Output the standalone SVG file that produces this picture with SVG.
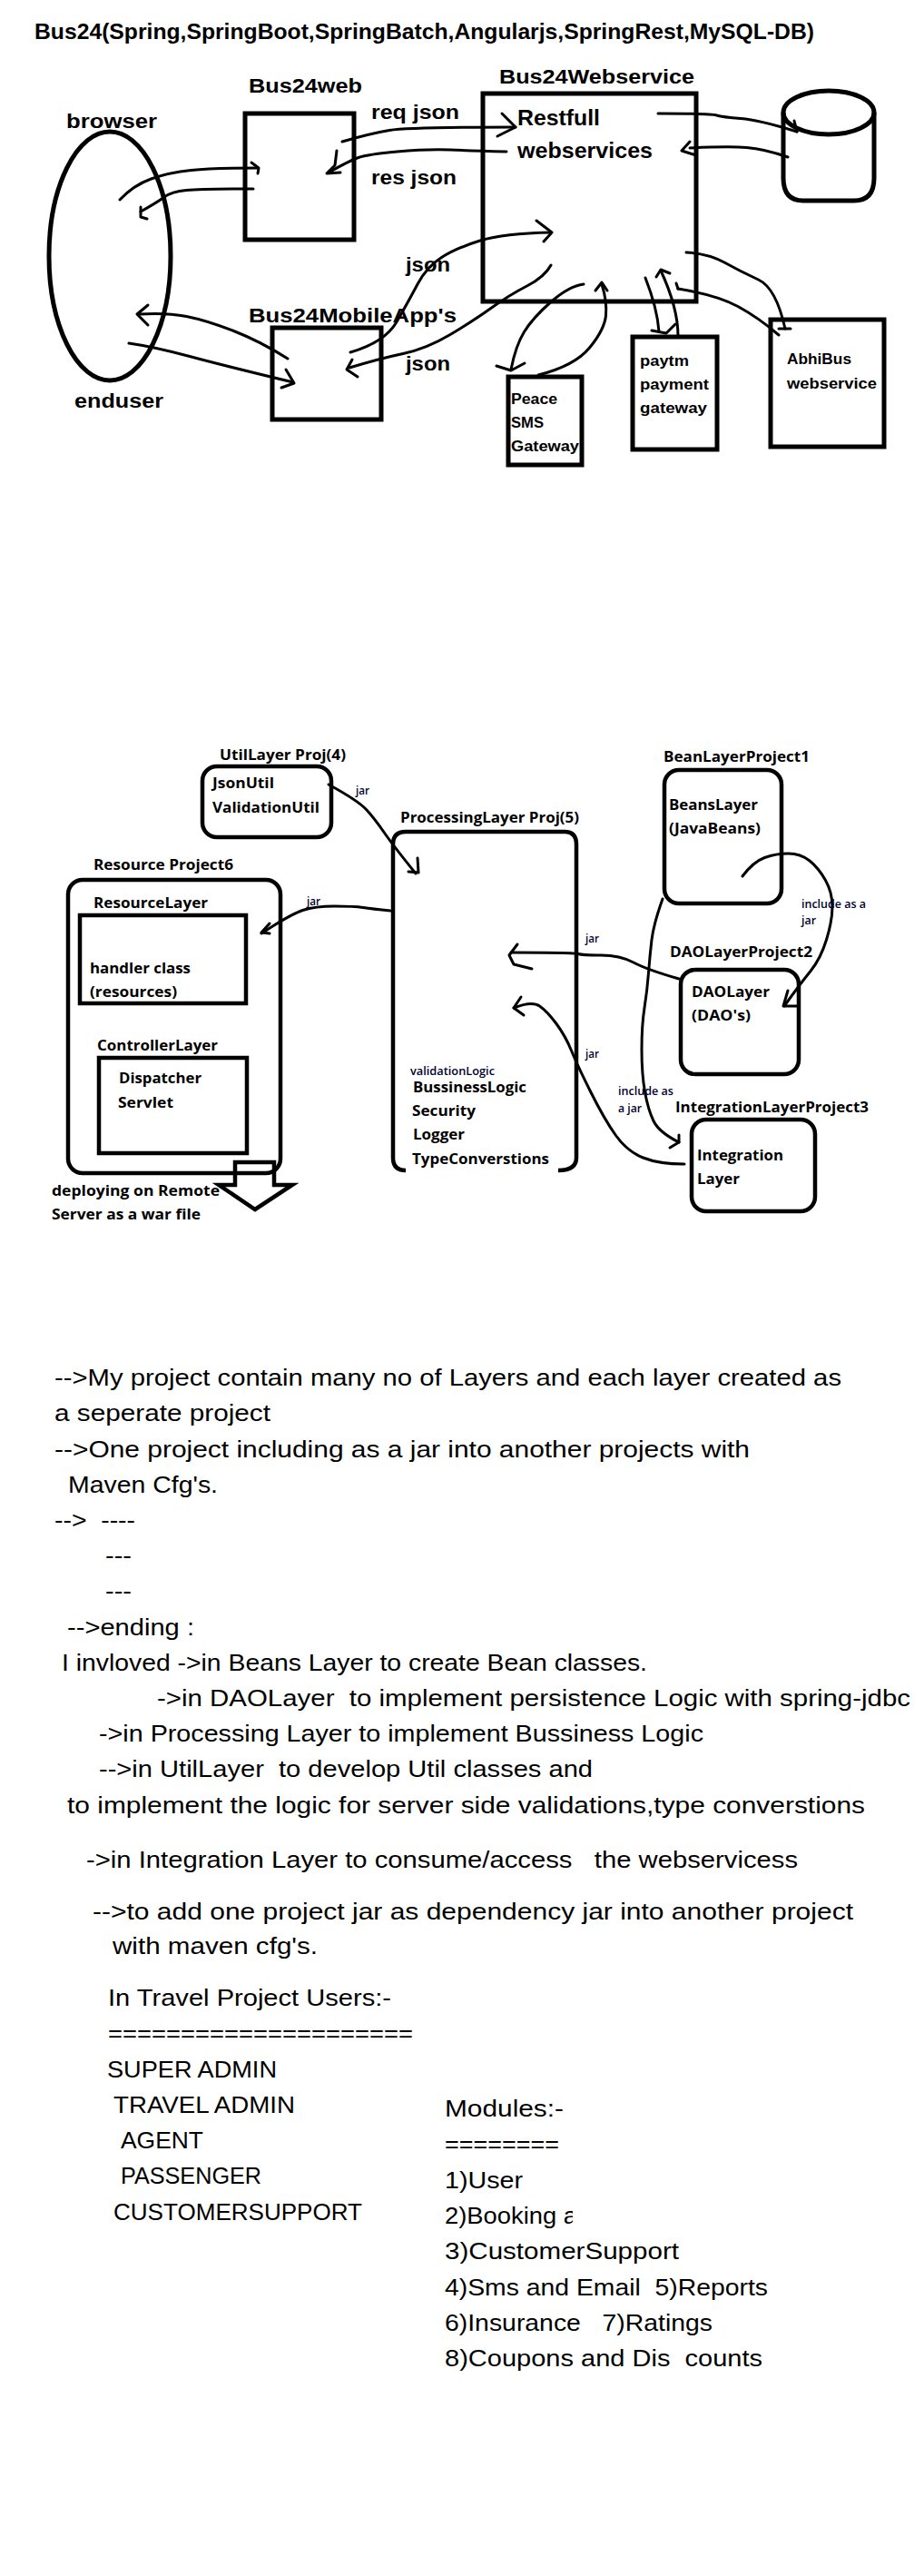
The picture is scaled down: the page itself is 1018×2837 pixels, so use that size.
<svg xmlns="http://www.w3.org/2000/svg" width="1018" height="2837" viewBox="0 0 1018 2837">
<style>
text{font-family:"Liberation Sans",Arial,sans-serif;fill:#000;white-space:pre}
.b{font-weight:bold}
.t24{font-size:24px}.t22{font-size:22px}.t16{font-size:16px}
.o{font-family:"Open Sans","DejaVu Sans",sans-serif;font-weight:700;font-size:16px}
.s{font-family:"Open Sans","DejaVu Sans",sans-serif;font-weight:600;font-size:12.5px;fill:#000030}
.p{font-size:26px}
.box{fill:none;stroke:#000;stroke-width:5}
.box2{fill:none;stroke:#000;stroke-width:4.5}
.c{fill:none;stroke:#000;stroke-width:3;stroke-linejoin:round;stroke-linecap:round}
</style>
<defs><clipPath id="clipBooking"><rect x="480" y="2420" width="151" height="40"/></clipPath></defs>
<rect width="1018" height="2837" fill="#fff"/>

<g id="title"><text class="b t24" x="38" y="43" textLength="859" lengthAdjust="spacingAndGlyphs">Bus24(Spring,SpringBoot,SpringBatch,Angularjs,SpringRest,MySQL-DB)</text></g>

<g id="browser-enduser"><ellipse class="box" cx="121" cy="282" rx="67" ry="137"/>
<text class="b t22" x="73" y="141" textLength="100" lengthAdjust="spacingAndGlyphs">browser</text>
<text class="b t22" x="82" y="449" textLength="98" lengthAdjust="spacingAndGlyphs">enduser</text></g>
<g id="bus24web"><rect class="box" x="270" y="125" width="120" height="139"/>
<text class="b t22" x="274" y="102" textLength="125" lengthAdjust="spacingAndGlyphs">Bus24web</text></g>
<g id="bus24webservice"><rect class="box" x="532" y="103" width="235" height="229"/>
<text class="b t22" x="550" y="92" textLength="215" lengthAdjust="spacingAndGlyphs">Bus24Webservice</text>
<text class="b t24" x="570" y="138" textLength="91" lengthAdjust="spacingAndGlyphs">Restfull</text>
<text class="b t24" x="570" y="174" textLength="149" lengthAdjust="spacingAndGlyphs">webservices</text></g>
<g id="database"><path class="box" d="M863,124V196Q863,221 885,221H941Q963,221 963,196V124"/><ellipse class="box" cx="913" cy="124" rx="50" ry="24"/></g>
<g id="bus24mobile"><rect class="box" x="300" y="361" width="120" height="101"/>
<text class="b t22" x="274" y="355" textLength="229" lengthAdjust="spacingAndGlyphs">Bus24MobileApp's</text></g>
<g id="peace"><rect class="box" x="560" y="415" width="81" height="97"/>
<text class="b t16" x="563" y="445" textLength="51" lengthAdjust="spacingAndGlyphs">Peace</text>
<text class="b t16" x="563" y="471" textLength="36" lengthAdjust="spacingAndGlyphs">SMS</text>
<text class="b t16" x="563" y="497" textLength="75" lengthAdjust="spacingAndGlyphs">Gateway</text></g>
<g id="paytm"><rect class="box" x="697" y="371" width="93" height="124"/>
<text class="b t16" x="705" y="403" textLength="54" lengthAdjust="spacingAndGlyphs">paytm</text>
<text class="b t16" x="705" y="429" textLength="76" lengthAdjust="spacingAndGlyphs">payment</text>
<text class="b t16" x="705" y="455" textLength="74" lengthAdjust="spacingAndGlyphs">gateway</text></g>
<g id="abhibus"><rect class="box" x="849" y="352" width="125" height="140"/>
<text class="b t16" x="867" y="401" textLength="71" lengthAdjust="spacingAndGlyphs">AbhiBus</text>
<text class="b t16" x="867" y="428" textLength="99" lengthAdjust="spacingAndGlyphs">webservice</text></g>

<g id="connectors-top">
<path class="c" d="M377,156Q408,147 429,143.5T568,140"/><polyline class="c" points="553,125 568,140 548,150"/>
<path class="c" d="M558,167Q522,166 496,165T437.5,167T395,173.5T362,190"/><polyline class="c" points="371,166 369,182 360,191 375,190"/>
<path class="c" d="M725,125Q783,125 789.5,127T816,130.5T878,145"/><polyline class="c" points="875,133 878,145"/>
<path class="c" d="M868,173Q842,164 822.5,162.5T760,163"/><polyline class="c" points="760,156 751,166 767,171"/>
<path class="c" d="M132,220Q147,204 166.5,197T210.5,187.5T284,185"/><polyline class="c" points="277,179 285,185 284,191"/>
<path class="c" d="M279,208Q222,208 205.5,209.5T181,217T155,233"/><polyline class="c" points="155,228 155,239 162,241"/>
<path class="c" d="M386,388Q424,377 437,354.5T460,313T486.5,283.5T529,265T607,256"/><polyline class="c" points="591,243 608,256 599,266"/>
<path class="c" d="M607,292Q600,305 580.5,315T541.5,339T496,368.5T444,389.5T385,405"/><polyline class="c" points="388,396 382,407 394,415"/>
<path class="c" d="M317,395Q287,376 257.5,364.5T205.5,348.5T153,346"/><polyline class="c" points="163,336 151,346 163,358"/>
<path class="c" d="M142,378Q170,382 209,392.5T323,421"/><polyline class="c" points="315,407 324,422 310,427"/>
<path class="c" d="M643,313Q627,315 607,332.5T577.5,365.5T563,407"/><polyline class="c" points="547,403 563,408 578,400"/>
<path class="c" d="M593,413Q633,403 649.5,383T667.5,347.5T663,313"/><polyline class="c" points="656,320 663,311 669,320"/>
<path class="c" d="M711,306Q724,339 726,365"/><polyline class="c" points="718,364 734,367 744,357"/>
<path class="c" d="M747,370Q747,339 728,298"/><polyline class="c" points="723,305 728,297 738,301"/>
<path class="c" d="M756,278Q780,279 798,289T835.5,308T865,362"/><polyline class="c" points="858,362 871,362"/>
<path class="c" d="M858,369Q836,350 813,337.5T747,318"/><polyline class="c" points="745,312 747,318"/>
</g>
<g id="labels-top">
<text class="b t22" x="409" y="131" textLength="97" lengthAdjust="spacingAndGlyphs">req json</text>
<text class="b t22" x="409" y="203" textLength="94" lengthAdjust="spacingAndGlyphs">res json</text>
<text class="b t22" x="447" y="299" textLength="49" lengthAdjust="spacingAndGlyphs">json</text>
<text class="b t22" x="447" y="408" textLength="49" lengthAdjust="spacingAndGlyphs">json</text>
</g>

<g id="utillayer"><rect class="box2" x="223" y="844" width="142" height="78" rx="16"/>
<text class="o" x="242" y="837" textLength="139" lengthAdjust="spacingAndGlyphs">UtilLayer Proj(4)</text>
<text class="o" x="234" y="868" textLength="68" lengthAdjust="spacingAndGlyphs">JsonUtil</text>
<text class="o" x="234" y="895" textLength="118" lengthAdjust="spacingAndGlyphs">ValidationUtil</text></g>
<g id="resource-project"><rect class="box2" x="75" y="969" width="234" height="323" rx="16"/>
<text class="o" x="103" y="958" textLength="154" lengthAdjust="spacingAndGlyphs">Resource Project6</text>
<rect class="box2" x="88" y="1008" width="183" height="97"/>
<text class="o" x="103" y="1000" textLength="126" lengthAdjust="spacingAndGlyphs">ResourceLayer</text>
<text class="o" x="99" y="1072" textLength="111" lengthAdjust="spacingAndGlyphs">handler class</text>
<text class="o" x="99" y="1098" textLength="96" lengthAdjust="spacingAndGlyphs">(resources)</text>
<rect class="box2" x="109" y="1165" width="163" height="105"/>
<text class="o" x="107" y="1157" textLength="133" lengthAdjust="spacingAndGlyphs">ControllerLayer</text>
<text class="o" x="131" y="1193" textLength="91" lengthAdjust="spacingAndGlyphs">Dispatcher</text>
<text class="o" x="130" y="1220" textLength="61" lengthAdjust="spacingAndGlyphs">Servlet</text>
<polygon class="box2" points="259,1280 302,1280 302,1305 322,1305 281,1332 241,1305 259,1305"/>
<text class="o" x="57" y="1317" textLength="185" lengthAdjust="spacingAndGlyphs">deploying on Remote</text>
<text class="o" x="57" y="1343" textLength="164" lengthAdjust="spacingAndGlyphs">Server as a war file</text></g>
<g id="processing"><path class="box2" d="M447,1289Q433,1289 433,1275V930Q433,916 447,916H622Q635,916 635,930V1275Q635,1289 615,1289"/>
<text class="o" x="441" y="906" textLength="197" lengthAdjust="spacingAndGlyphs">ProcessingLayer Proj(5)</text>
<text class="s" x="452" y="1184" textLength="93" lengthAdjust="spacingAndGlyphs">validationLogic</text>
<text class="o" x="455" y="1203" textLength="125" lengthAdjust="spacingAndGlyphs">BussinessLogic</text>
<text class="o" x="454" y="1229" textLength="70" lengthAdjust="spacingAndGlyphs">Security</text>
<text class="o" x="455" y="1255" textLength="57" lengthAdjust="spacingAndGlyphs">Logger</text>
<text class="o" x="454" y="1282" textLength="151" lengthAdjust="spacingAndGlyphs">TypeConverstions</text></g>
<g id="beanlayer"><rect class="box2" x="732" y="848" width="129" height="147" rx="16"/>
<text class="o" x="731" y="839" textLength="161" lengthAdjust="spacingAndGlyphs">BeanLayerProject1</text>
<text class="o" x="737" y="892" textLength="98" lengthAdjust="spacingAndGlyphs">BeansLayer</text>
<text class="o" x="737" y="918" textLength="101" lengthAdjust="spacingAndGlyphs">(JavaBeans)</text></g>
<g id="daolayer"><rect class="box2" x="750" y="1068" width="130" height="115" rx="16"/>
<text class="o" x="738" y="1054" textLength="157" lengthAdjust="spacingAndGlyphs">DAOLayerProject2</text>
<text class="o" x="762" y="1098" textLength="86" lengthAdjust="spacingAndGlyphs">DAOLayer</text>
<text class="o" x="762" y="1124" textLength="65" lengthAdjust="spacingAndGlyphs">(DAO's)</text></g>
<g id="integration"><rect class="box2" x="762" y="1233" width="136" height="101" rx="16"/>
<text class="o" x="744" y="1225" textLength="213" lengthAdjust="spacingAndGlyphs">IntegrationLayerProject3</text>
<text class="o" x="768" y="1278" textLength="95" lengthAdjust="spacingAndGlyphs">Integration</text>
<text class="o" x="768" y="1304" textLength="47" lengthAdjust="spacingAndGlyphs">Layer</text></g>

<g id="connectors-layers">
<path class="c" d="M362,864Q395,882 404,892T423,916.5T458,962"/><polyline class="c" points="460,945 461,961 450,960"/>
<path class="c" d="M430,1003Q410,1001 400,999.5T368.5,998T333.5,1002.5T288,1028"/><polyline class="c" points="297,1017 288,1027 297,1028"/>
<path class="c" d="M748,1078Q713,1068 698,1060T662,1052T637,1050.5T563,1049"/><polyline class="c" points="570,1040 561,1052 566,1062 586,1067"/>
<path class="c" d="M754,1282Q726,1282 708.5,1275T678.5,1250.5T651,1203T629.5,1157T613,1127.5T594.5,1108T566,1110"/><polyline class="c" points="574,1098 566,1110 577,1118"/>
<path class="c" d="M818,965Q830,949 842.5,944.5T868.5,940T892,948T909.5,969.5T917,998.5T910.5,1035T893,1069.5T864,1108"/><polyline class="c" points="868,1091 863,1108 879,1108"/>
<path class="c" d="M730,990Q720,1018 718,1035T714.5,1071.5T710,1110T707,1156T710.5,1202.5T720,1234.5T748,1258"/><polyline class="c" points="748,1250 748,1258 738,1264"/>
</g>
<g id="labels-layers">
<text class="s" x="392" y="875" textLength="15" lengthAdjust="spacingAndGlyphs">jar</text>
<text class="s" x="338" y="997" textLength="15" lengthAdjust="spacingAndGlyphs">jar</text>
<text class="s" x="645" y="1038" textLength="15" lengthAdjust="spacingAndGlyphs">jar</text>
<text class="s" x="645" y="1165" textLength="15" lengthAdjust="spacingAndGlyphs">jar</text>
<text class="s" x="883" y="1000" textLength="71" lengthAdjust="spacingAndGlyphs">include as a</text>
<text class="s" x="883" y="1018" textLength="16" lengthAdjust="spacingAndGlyphs">jar</text>
<text class="s" x="681" y="1206" textLength="61" lengthAdjust="spacingAndGlyphs">include as</text>
<text class="s" x="681" y="1225" textLength="26" lengthAdjust="spacingAndGlyphs">a jar</text>
</g>

<g id="notes">
<text class="p" x="60" y="1526" textLength="867" lengthAdjust="spacingAndGlyphs">--&gt;My project contain many no of Layers and each layer created as</text>
<text class="p" x="60" y="1565" textLength="238" lengthAdjust="spacingAndGlyphs">a seperate project</text>
<text class="p" x="60" y="1605" textLength="766" lengthAdjust="spacingAndGlyphs">--&gt;One project including as a jar into another projects with</text>
<text class="p" x="75" y="1644" textLength="165" lengthAdjust="spacingAndGlyphs">Maven Cfg's.</text>
<text class="p" x="60" y="1683" textLength="89" lengthAdjust="spacingAndGlyphs">--&gt;  ----</text>
<text class="p" x="116" y="1722" textLength="29" lengthAdjust="spacingAndGlyphs">---</text>
<text class="p" x="116" y="1761" textLength="29" lengthAdjust="spacingAndGlyphs">---</text>
<text class="p" x="74" y="1801" textLength="140" lengthAdjust="spacingAndGlyphs">--&gt;ending :</text>
<text class="p" x="68" y="1840" textLength="645" lengthAdjust="spacingAndGlyphs">I invloved -&gt;in Beans Layer to create Bean classes.</text>
<text class="p" x="173" y="1879" textLength="830" lengthAdjust="spacingAndGlyphs">-&gt;in DAOLayer  to implement persistence Logic with spring-jdbc</text>
<text class="p" x="109" y="1918" textLength="666" lengthAdjust="spacingAndGlyphs">-&gt;in Processing Layer to implement Bussiness Logic</text>
<text class="p" x="109" y="1957" textLength="544" lengthAdjust="spacingAndGlyphs">--&gt;in UtilLayer  to develop Util classes and</text>
<text class="p" x="74" y="1997" textLength="879" lengthAdjust="spacingAndGlyphs">to implement the logic for server side validations,type converstions</text>
<text class="p" x="95" y="2057" textLength="784" lengthAdjust="spacingAndGlyphs">-&gt;in Integration Layer to consume/access   the webservicess</text>
<text class="p" x="102" y="2114" textLength="838" lengthAdjust="spacingAndGlyphs">--&gt;to add one project jar as dependency jar into another project</text>
<text class="p" x="124" y="2152" textLength="226" lengthAdjust="spacingAndGlyphs">with maven cfg's.</text>
</g>
<g id="users">
<text class="p" x="119" y="2209" textLength="312" lengthAdjust="spacingAndGlyphs">In Travel Project Users:-</text>
<text class="p" x="119" y="2248" textLength="336" lengthAdjust="spacingAndGlyphs">=====================</text>
<text class="p" x="118" y="2288" textLength="187" lengthAdjust="spacingAndGlyphs">SUPER ADMIN</text>
<text class="p" x="125" y="2327" textLength="200" lengthAdjust="spacingAndGlyphs">TRAVEL ADMIN</text>
<text class="p" x="133" y="2366" textLength="91" lengthAdjust="spacingAndGlyphs">AGENT</text>
<text class="p" x="133" y="2405" textLength="155" lengthAdjust="spacingAndGlyphs">PASSENGER</text>
<text class="p" x="125" y="2445" textLength="274" lengthAdjust="spacingAndGlyphs">CUSTOMERSUPPORT</text>
</g>
<g id="modules">
<text class="p" x="490" y="2331" textLength="131" lengthAdjust="spacingAndGlyphs">Modules:-</text>
<text class="p" x="490" y="2370" textLength="126" lengthAdjust="spacingAndGlyphs">========</text>
<text class="p" x="490" y="2410" textLength="86" lengthAdjust="spacingAndGlyphs">1)User</text>
<text class="p" x="490" y="2449" textLength="146" lengthAdjust="spacingAndGlyphs" clip-path="url(#clipBooking)">2)Booking a</text>
<text class="p" x="490" y="2488" textLength="258" lengthAdjust="spacingAndGlyphs">3)CustomerSupport</text>
<text class="p" x="490" y="2528" textLength="356" lengthAdjust="spacingAndGlyphs">4)Sms and Email  5)Reports</text>
<text class="p" x="490" y="2567" textLength="295" lengthAdjust="spacingAndGlyphs">6)Insurance   7)Ratings</text>
<text class="p" x="490" y="2606" textLength="350" lengthAdjust="spacingAndGlyphs">8)Coupons and Dis  counts</text>
</g>
</svg>
